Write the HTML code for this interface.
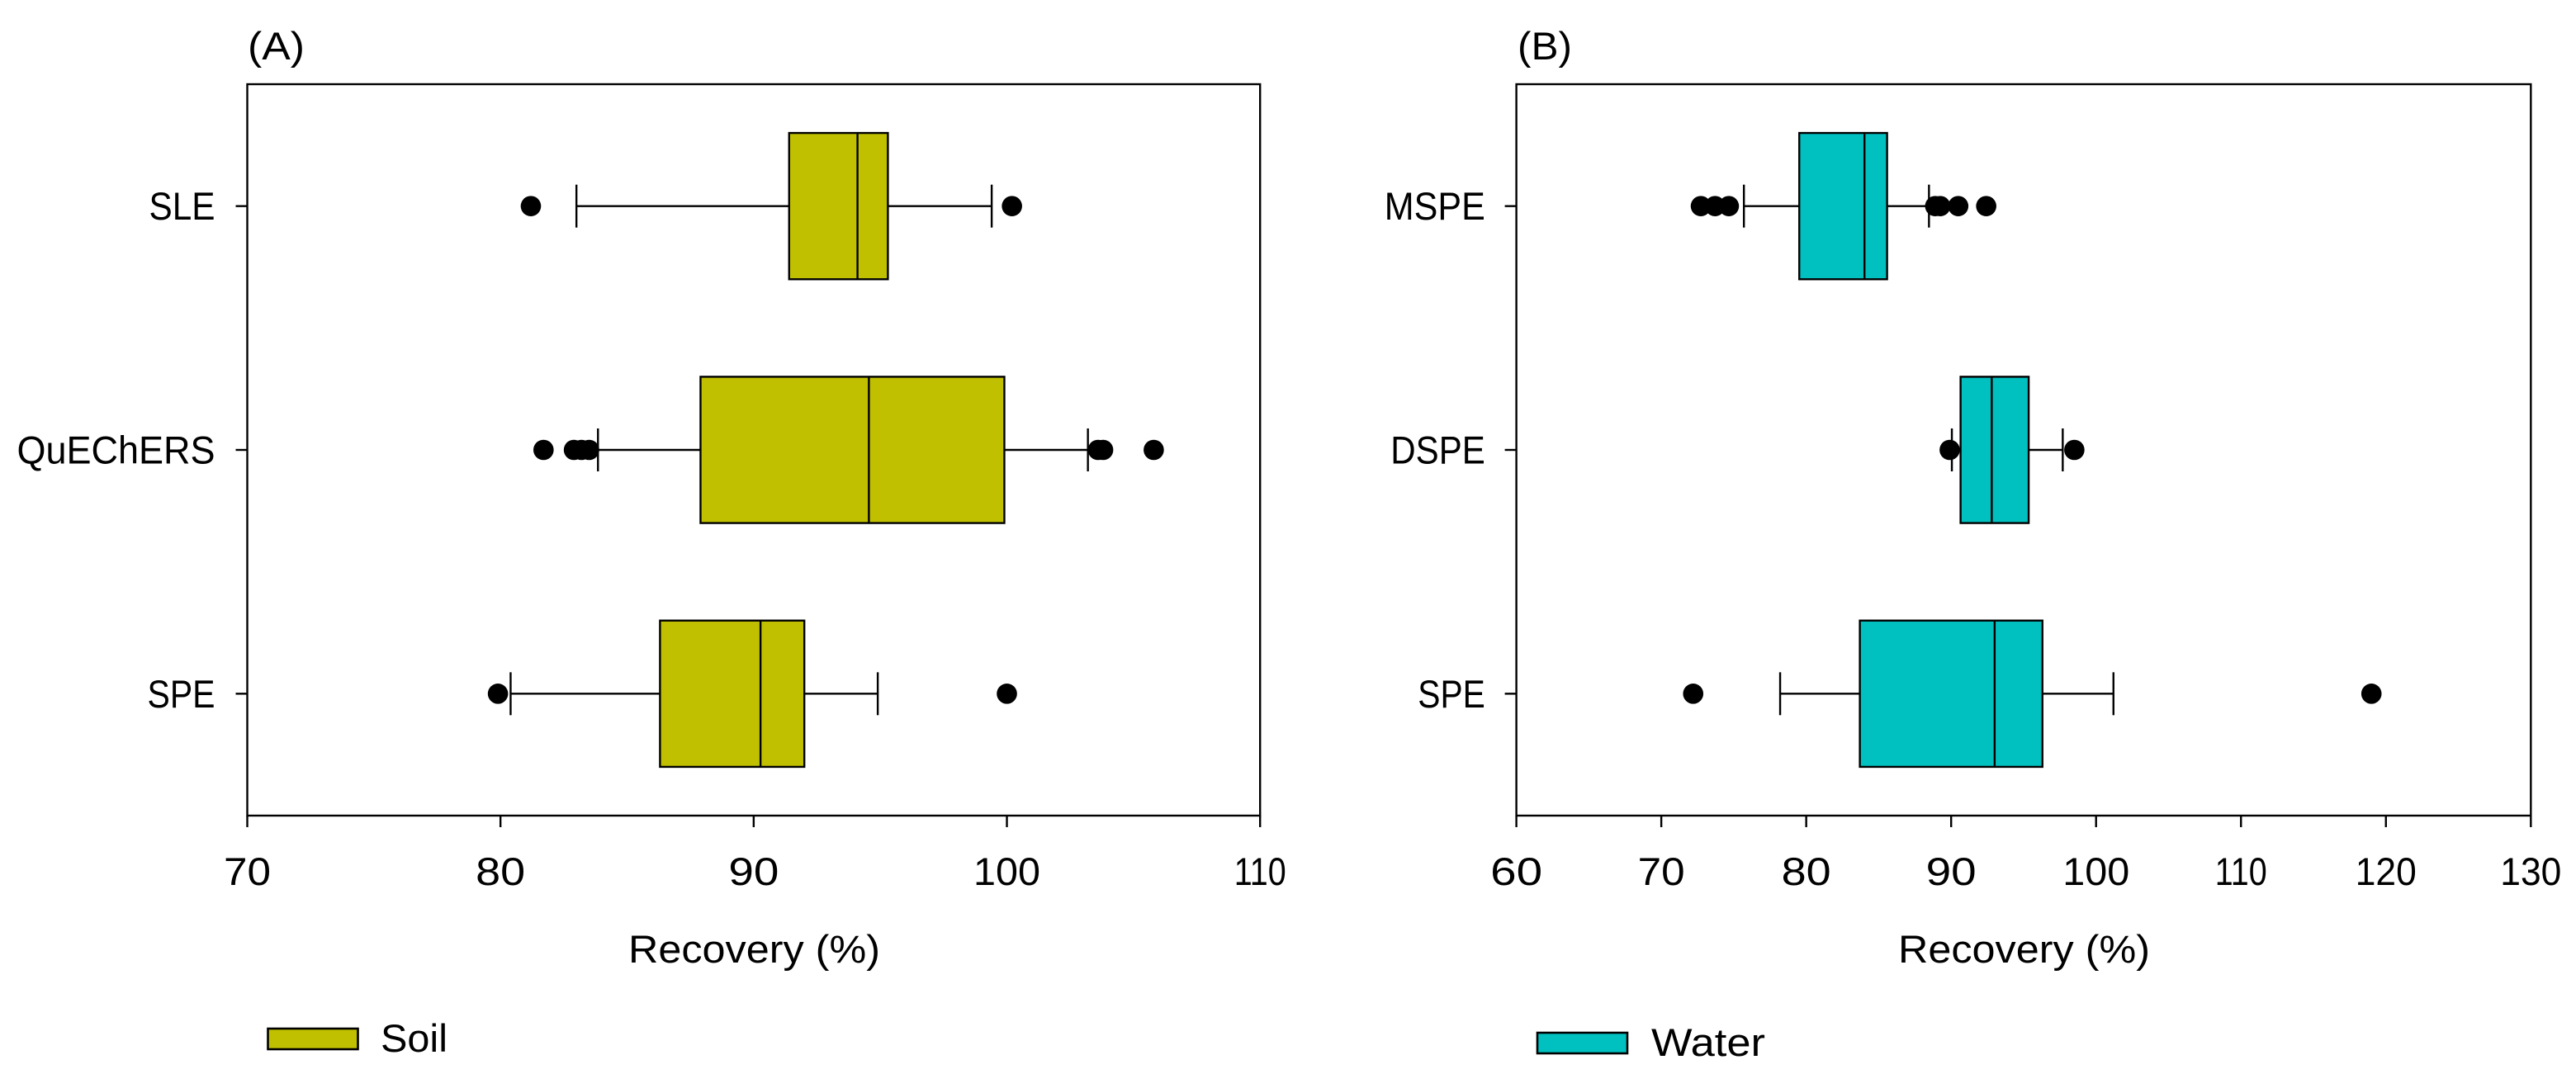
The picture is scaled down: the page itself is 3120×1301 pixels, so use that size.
<!DOCTYPE html>
<html>
<head>
<meta charset="utf-8">
<title>Recovery box plots</title>
<style>
html,body{margin:0;padding:0;background:#fff;}
svg{display:block;}
text{font-family:"Liberation Sans",sans-serif;fill:#000;font-size:47px;}
</style>
</head>
<body>
<svg id="chart" width="3120" height="1301" viewBox="0 0 3120 1301" xmlns="http://www.w3.org/2000/svg">
  <rect x="0" y="0" width="3120" height="1301" fill="#fff"/>
  <g id="panel-a">
    <text x="300" y="72" textLength="69" lengthAdjust="spacingAndGlyphs">(A)</text>
    <text x="761" y="1166" textLength="305" lengthAdjust="spacingAndGlyphs">Recovery (%)</text>
    <rect x="324.5" y="1246" width="109" height="25" fill="#C0C000" stroke="#000" stroke-width="2.6"/>
    <text x="461" y="1274" textLength="81" lengthAdjust="spacingAndGlyphs">Soil</text>
  </g>
  <g id="panel-b">
    <text x="1838" y="72" textLength="66" lengthAdjust="spacingAndGlyphs">(B)</text>
    <text x="2299" y="1166" textLength="305" lengthAdjust="spacingAndGlyphs">Recovery (%)</text>
    <rect x="1862" y="1251" width="109" height="25" fill="#00C0C0" stroke="#000" stroke-width="2.6"/>
    <text x="2000" y="1279" textLength="138" lengthAdjust="spacingAndGlyphs">Water</text>
  </g>
</svg>
<script>
// Panel A (Soil) data
const soilCategories = ['SLE', 'QuEChERS', 'SPE'];
const soilWhiskerLow = [83.0, 83.85, 80.4];
const soilQ1 = [91.4, 87.9, 86.3];
const soilMedian = [94.1, 94.55, 90.27];
const soilQ3 = [95.3, 99.9, 92.0];
const soilWhiskerHigh = [99.4, 103.2, 94.9];
const soilOutliers = [
  [81.2, 100.2],
  [81.7, 82.9, 83.2, 83.5, 103.6, 103.8, 105.8],
  [79.9, 100.0]
];
const soilTicks = [70, 80, 90, 100, 110];

// Panel B (Water) data
const waterCategories = ['MSPE', 'DSPE', 'SPE'];
const waterWhiskerLow = [75.7, 90.05, 78.2];
const waterQ1 = [79.52, 90.65, 83.7];
const waterMedian = [84.02, 92.8, 93.0];
const waterQ3 = [85.58, 95.35, 96.3];
const waterWhiskerHigh = [88.47, 97.7, 101.2];
const waterOutliers = [
  [72.73, 73.71, 74.66, 88.9, 89.25, 90.49, 92.42],
  [89.9, 98.5],
  [72.2, 119.0]
];
const waterTicks = [60, 70, 80, 90, 100, 110, 120, 130];

const SVGNS = 'http://www.w3.org/2000/svg';
const plotTop = 102, plotBottom = 988;
const glyphWidths = {'0':33,'1':15,'2':26,'3':26,'4':30,'5':28,'6':30,'7':24,'8':27,'9':28};

function mk(parent, tag, attrs) {
  const el = document.createElementNS(SVGNS, tag);
  for (const k in attrs) el.setAttribute(k, attrs[k]);
  parent.appendChild(el);
  return el;
}
function labelWidth(s) {
  let w = 0;
  for (const c of String(s)) w += glyphWidths[c] || 30;
  return w;
}

function drawPanel(opts) {
  const g = document.getElementById(opts.id);
  const x0 = opts.left, x1 = opts.right;
  const dMin = opts.ticks[0], dMax = opts.ticks[opts.ticks.length - 1];
  const xScale = v => x0 + (v - dMin) / (dMax - dMin) * (x1 - x0);
  const band = (plotBottom - plotTop) / opts.categories.length;
  const yScale = i => plotTop + band * (i + 0.5);
  const boxH = band * 0.6, capH = band * 0.088;
  const ink = {stroke: '#000', 'stroke-width': 2.4, fill: 'none'};

  // plot frame
  const frame = mk(g, 'rect', Object.assign({x: x0, y: plotTop, width: x1 - x0, height: plotBottom - plotTop}, ink));
  
  

  // x ticks + labels
  opts.ticks.forEach(t => {
    const tx = xScale(t);
    const tick = mk(g, 'line', Object.assign({x1: tx, x2: tx, y1: plotBottom, y2: plotBottom + 14}, ink));
    
    
    const w = labelWidth(t);
    const lab = mk(g, 'text', {x: tx - w / 2, y: 1072, textLength: w, lengthAdjust: 'spacingAndGlyphs'});
    lab.textContent = String(t);
    
    
  });

  // categories
  opts.categories.forEach((cat, i) => {
    const y = yScale(i);
    const tick = mk(g, 'line', Object.assign({x1: x0 - 14, x2: x0, y1: y, y2: y}, ink));
    
    

    const lab = mk(g, 'text', {x: opts.labelRight - opts.labelW[i], y: y + 16.5, textLength: opts.labelW[i], lengthAdjust: 'spacingAndGlyphs'});
    lab.textContent = cat;
    
    

    const wl = mk(g, 'line', Object.assign({x1: xScale(opts.low[i]), x2: xScale(opts.q1[i]), y1: y, y2: y}, ink));
    
    

    const wh = mk(g, 'line', Object.assign({x1: xScale(opts.q3[i]), x2: xScale(opts.high[i]), y1: y, y2: y}, ink));
    
    

    const cl = mk(g, 'line', Object.assign({x1: xScale(opts.low[i]), x2: xScale(opts.low[i]), y1: y - capH, y2: y + capH}, ink));
    
    

    const ch = mk(g, 'line', Object.assign({x1: xScale(opts.high[i]), x2: xScale(opts.high[i]), y1: y - capH, y2: y + capH}, ink));
    
    

    const box = mk(g, 'rect', {x: xScale(opts.q1[i]), y: y - boxH / 2, width: xScale(opts.q3[i]) - xScale(opts.q1[i]), height: boxH, fill: opts.color, stroke: '#000', 'stroke-width': 2.4});
    
    

    const med = mk(g, 'line', Object.assign({x1: xScale(opts.median[i]), x2: xScale(opts.median[i]), y1: y - boxH / 2, y2: y + boxH / 2}, ink));
    
    

    opts.outliers[i].forEach(v => {
      const dot = mk(g, 'circle', {cx: xScale(v), cy: y, r: 12.3, fill: '#000'});
      
      
    });
  });
}

drawPanel({
  id: 'panel-a', left: 299.5, right: 1526.2, labelRight: 260.5, labelW: [80, 240, 82],
  color: '#C0C000', categories: soilCategories, ticks: soilTicks,
  low: soilWhiskerLow, q1: soilQ1, median: soilMedian, q3: soilQ3, high: soilWhiskerHigh, outliers: soilOutliers
});
drawPanel({
  id: 'panel-b', left: 1836.6, right: 3065.3, labelRight: 1798.8, labelW: [122, 114.5, 81.5],
  color: '#00C0C0', categories: waterCategories, ticks: waterTicks,
  low: waterWhiskerLow, q1: waterQ1, median: waterMedian, q3: waterQ3, high: waterWhiskerHigh, outliers: waterOutliers
});
</script>
</body>
</html>
